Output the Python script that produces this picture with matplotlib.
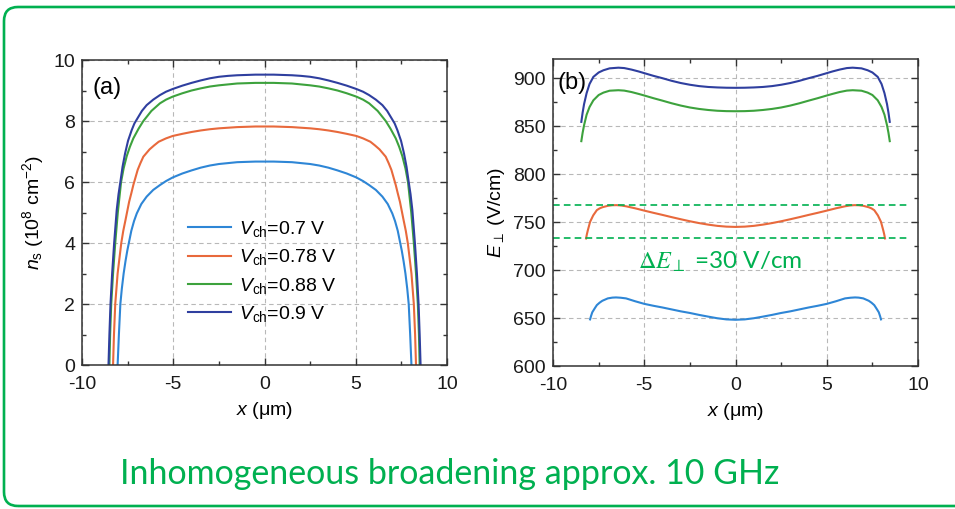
import matplotlib
matplotlib.use("Agg")
import matplotlib.pyplot as plt
from matplotlib.patches import FancyBboxPatch
from matplotlib.ticker import MultipleLocator

plt.rcParams['font.family'] = ['Liberation Sans', 'DejaVu Sans']
plt.rcParams['mathtext.fontset'] = 'custom'
plt.rcParams['mathtext.rm'] = 'Liberation Sans'
plt.rcParams['mathtext.it'] = 'Liberation Sans:italic'
plt.rcParams['axes.unicode_minus'] = False

# (a) sheet density n_s (1e8 cm^-2) vs x (um)
a_blue_x = [-8.05, -7.98, -7.9, -7.82, -7.72, -7.62, -7.52, -7.3, -7.15, -7.0, -6.75, -6.46, -6.1, -5.73, -5.4, -5.03,
            -4.5, -4.0, -3.5, -3.0, -2.5, -2.0, -1.5, -1.0, -0.5, 0.0,
            0.5, 1.0, 1.5, 2.0, 2.5, 3.0, 3.5, 4.0, 4.5,
            5.03, 5.4, 5.73, 6.1, 6.46, 6.75, 7.0, 7.15, 7.3, 7.52, 7.62, 7.72, 7.82, 7.9, 7.98, 8.05]
a_blue_y = [0.0, 1.0, 2.0, 2.5, 3.0, 3.4, 3.75, 4.4, 4.72, 4.97, 5.28, 5.52, 5.74, 5.9, 6.03, 6.15,
            6.28, 6.38, 6.47, 6.54, 6.59, 6.62, 6.65, 6.66, 6.67, 6.67,
            6.67, 6.66, 6.65, 6.62, 6.59, 6.54, 6.47, 6.38, 6.28,
            6.15, 6.03, 5.9, 5.74, 5.52, 5.28, 4.97, 4.72, 4.4, 3.75, 3.4, 3.0, 2.5, 2.0, 1.0, 0.0]

a_orange_x = [-8.3, -8.25, -8.18, -8.05, -7.85, -7.74, -7.62, -7.42, -7.3, -7.19, -6.95, -6.8, -6.64, -6.3, -6.05, -5.8, -5.4, -5.03,
              -4.5, -4.0, -3.5, -3.0, -2.5, -2.0, -1.5, -1.0, -0.5, 0.0,
              0.5, 1.0, 1.5, 2.0, 2.5, 3.0, 3.5, 4.0, 4.5,
              5.03, 5.4, 5.8, 6.05, 6.3, 6.64, 6.8, 6.95, 7.19, 7.3, 7.42, 7.62, 7.74, 7.85, 8.05, 8.18, 8.25, 8.3]
a_orange_y = [0.0, 1.0, 2.0, 3.0, 4.0, 4.4, 4.75, 5.35, 5.63, 5.9, 6.4, 6.62, 6.83, 7.07, 7.2, 7.32, 7.43, 7.51,
              7.58, 7.64, 7.69, 7.73, 7.76, 7.78, 7.8, 7.81, 7.82, 7.82,
              7.82, 7.81, 7.8, 7.78, 7.76, 7.73, 7.69, 7.64, 7.58,
              7.51, 7.43, 7.32, 7.2, 7.07, 6.83, 6.62, 6.4, 5.9, 5.63, 5.35, 4.75, 4.4, 4.0, 3.0, 2.0, 1.0, 0.0]

a_green_x = [-8.5, -8.46, -8.4, -8.3, -8.18, -8.04, -7.95, -7.86, -7.72, -7.55, -7.38, -7.19, -6.9, -6.64, -6.4, -6.2, -5.73, -5.4, -5.03,
             -4.5, -4.0, -3.5, -3.0, -2.5, -2.0, -1.5, -1.0, -0.5, 0.0,
             0.5, 1.0, 1.5, 2.0, 2.5, 3.0, 3.5, 4.0, 4.5,
             5.03, 5.4, 5.73, 6.2, 6.4, 6.64, 6.9, 7.19, 7.38, 7.55, 7.72, 7.86, 7.95, 8.04, 8.18, 8.3, 8.4, 8.46, 8.5]
a_green_y = [0.0, 1.0, 2.0, 3.0, 4.0, 5.0, 5.5, 6.0, 6.45, 6.85, 7.15, 7.43, 7.75, 8.0, 8.18, 8.33, 8.58, 8.7, 8.8,
             8.91, 9.0, 9.07, 9.13, 9.17, 9.2, 9.23, 9.24, 9.25, 9.25,
             9.25, 9.24, 9.23, 9.2, 9.17, 9.13, 9.07, 9.0, 8.91,
             8.8, 8.7, 8.58, 8.33, 8.18, 8.0, 7.75, 7.43, 7.15, 6.85, 6.45, 6.0, 5.5, 5.0, 4.0, 3.0, 2.0, 1.0, 0.0]

a_navy_x = [-8.55, -8.5, -8.44, -8.35, -8.24, -8.1, -8.0, -7.9, -7.78, -7.64, -7.48, -7.28, -7.13, -6.97, -6.72, -6.46, -6.1, -5.73, -5.4, -5.03,
            -4.5, -4.0, -3.5, -3.0, -2.5, -2.0, -1.5, -1.0, -0.5, 0.0,
            0.5, 1.0, 1.5, 2.0, 2.5, 3.0, 3.5, 4.0, 4.5,
            5.03, 5.4, 5.73, 6.1, 6.46, 6.72, 6.97, 7.13, 7.28, 7.48, 7.64, 7.78, 7.9, 8.0, 8.1, 8.24, 8.35, 8.44, 8.5, 8.55]
a_navy_y = [0.0, 1.0, 2.0, 3.0, 4.0, 5.08, 5.6, 6.0, 6.5, 6.94, 7.35, 7.7, 7.92, 8.08, 8.33, 8.52, 8.7, 8.85, 8.96, 9.05,
            9.16, 9.25, 9.33, 9.4, 9.45, 9.48, 9.5, 9.51, 9.52, 9.52,
            9.52, 9.51, 9.5, 9.48, 9.45, 9.4, 9.33, 9.25, 9.16,
            9.05, 8.96, 8.85, 8.7, 8.52, 8.33, 8.08, 7.92, 7.7, 7.35, 6.94, 6.5, 6.0, 5.6, 5.08, 4.0, 3.0, 2.0, 1.0, 0.0]

# (b) perpendicular field E (V/cm) vs x (um)
b_top_x = [-8.45, -8.38, -8.3, -8.16, -8.0, -7.79, -7.5, -7.24, -6.9, -6.42, -6.1, -5.7, -5.3, -5.0,
           -4.5, -4.0, -3.5, -3.0, -2.5, -2.0, -1.5, -1.0, -0.5, 0.0,
           0.5, 1.0, 1.5, 2.0, 2.5, 3.0, 3.5, 4.0, 4.5,
           5.0, 5.3, 5.7, 6.1, 6.42, 6.9, 7.24, 7.5, 7.79, 8.0, 8.16, 8.3, 8.38, 8.45]
b_navy_y = [854.5, 864, 873, 884.5, 894, 901.4, 906, 908.3, 910.3, 911, 910.6, 909, 907, 905.3,
            902.5, 900, 897.3, 895, 893.2, 891.8, 890.9, 890.4, 890.1, 890,
            890.1, 890.4, 890.9, 891.8, 893.2, 895, 897.3, 900, 902.5,
            905.3, 907, 909, 910.6, 911, 910.3, 908.3, 906, 901.4, 894, 884.5, 873, 864, 854.5]
b_green_y = [834.4, 843, 851, 862, 870, 877, 882.5, 885, 887, 887.5, 887.1, 885.6, 883.6, 882,
             879.2, 876.6, 873.9, 871.5, 869.5, 868, 866.9, 866.1, 865.7, 865.6,
             865.7, 866.1, 866.9, 868, 869.5, 871.5, 873.9, 876.6, 879.2,
             882, 883.6, 885.6, 887.1, 887.5, 887, 885, 882.5, 877, 870, 862, 851, 843, 834.4]

b_orange_x = [-8.19, -8.15, -8.1, -8.03, -7.97, -7.8, -7.6, -7.45, -7.3, -7.0, -6.75, -6.51, -6.25, -6.0, -5.5, -5.0,
              -4.5, -4.0, -3.5, -3.0, -2.5, -2.0, -1.5, -1.0, -0.5, 0.0,
              0.5, 1.0, 1.5, 2.0, 2.5, 3.0, 3.5, 4.0, 4.5,
              5.0, 5.5, 6.0, 6.25, 6.51, 6.75, 7.0, 7.3, 7.45, 7.6, 7.8, 7.97, 8.03, 8.1, 8.15, 8.19]
b_orange_y = [733, 737, 741, 746, 750.3, 757, 762.5, 764.3, 765.5, 767, 767.6, 767.7, 767.3, 766.5, 764.4, 762,
              759.7, 757.5, 755.2, 753, 750.9, 749, 747.4, 746.1, 745.3, 745,
              745.3, 746.1, 747.4, 749, 750.9, 753, 755.2, 757.5, 759.7,
              762, 764.4, 766.5, 767.3, 767.7, 767.6, 767, 765.5, 764.3, 762.5, 757, 750.3, 746, 741, 737, 733]

b_blue_x = [-7.97, -7.92, -7.85, -7.72, -7.6, -7.45, -7.3, -7.0, -6.75, -6.55, -6.3, -6.0, -5.5, -5.0,
            -4.5, -4.0, -3.5, -3.0, -2.5, -2.0, -1.5, -1.0, -0.5, 0.0,
            0.5, 1.0, 1.5, 2.0, 2.5, 3.0, 3.5, 4.0, 4.5,
            5.0, 5.5, 6.0, 6.3, 6.55, 6.75, 7.0, 7.3, 7.45, 7.6, 7.72, 7.85, 7.92, 7.97]
b_blue_y = [648.6, 652, 656, 660, 663.5, 666, 668, 670.5, 671.3, 671.5, 671.2, 670.5, 667.5, 664.8,
            662.8, 661, 659, 657, 655.3, 653.3, 651.5, 649.8, 648.6, 648.2,
            648.6, 649.8, 651.5, 653.3, 655.3, 657, 659, 661, 662.8,
            664.8, 667.5, 670.5, 671.2, 671.5, 671.3, 670.5, 668, 666, 663.5, 660, 656, 652, 648.6]

spread_levels = [767.5, 733.5]
labels = ['0.7', '0.78', '0.88', '0.9']
colors = ['#2E86D6', '#E8693C', '#3DA23D', '#2F3F9F']
accent = '#00B050'

fig = plt.figure(figsize=(9.55, 5.09), dpi=100)

# rounded green frame around the slide panel
frame = FancyBboxPatch((0.04, 0.03), 9.65, 4.99, boxstyle="round,pad=0,rounding_size=0.14",
                       transform=fig.dpi_scale_trans, facecolor='none', edgecolor=accent, linewidth=1.9)
fig.patches.append(frame)

ax1 = fig.add_axes([0.0859, 0.2829, 0.3822, 0.5992])
ax2 = fig.add_axes([0.5791, 0.2809, 0.3822, 0.6031])

for ax in (ax1, ax2):
    ax.set_xlim(-10, 10)
    ax.xaxis.set_major_locator(MultipleLocator(5))
    ax.xaxis.set_minor_locator(MultipleLocator(2.5))
    ax.grid(True, which='major', linestyle=(0, (4, 3)), color='#b8b8b8', linewidth=0.8)
    ax.tick_params(which='both', direction='in', top=True, right=True, labelsize=14,
                   colors='#333333', labelcolor='#1a1a1a')
    ax.tick_params(axis='x', which='major', pad=8)
    ax.tick_params(axis='y', which='major', pad=5)
    ax.tick_params(which='major', length=5, width=1)
    ax.tick_params(which='minor', length=3, width=1)
    for s in ax.spines.values():
        s.set_color('#333333')
        s.set_linewidth(1.1)
    ax.set_xlabel(r'$x$ ($\mathrm{\mu}$m)', fontsize=14, labelpad=5)

ax1.set_ylim(0, 10)
ax1.yaxis.set_major_locator(MultipleLocator(2))
ax1.yaxis.set_minor_locator(MultipleLocator(1))
ax2.set_ylim(600, 920)
ax2.yaxis.set_major_locator(MultipleLocator(50))
ax2.yaxis.set_minor_locator(MultipleLocator(25))

a_sets = [(a_blue_x, a_blue_y), (a_orange_x, a_orange_y), (a_green_x, a_green_y), (a_navy_x, a_navy_y)]
for (xs, ys), lab, c in zip(a_sets, labels, colors):
    ax1.plot(xs, ys, color=c, linewidth=1.5, label=r'$V_\mathrm{ch}$=' + lab + ' V')

ax1.legend(loc='upper left', bbox_to_anchor=(0.291, 0.478), frameon=False, fontsize=14,
           handlelength=2.2, handletextpad=0.4, labelspacing=0.42, borderpad=0, borderaxespad=0)
ax1.set_ylabel(r'$n_\mathrm{s}$ (10$^8$ cm$^{-2}$)', fontsize=14, labelpad=5)
ax1.text(-9.45, 9.08, '(a)', fontsize=17, ha='left', va='center')

b_sets = [(b_blue_x, b_blue_y), (b_orange_x, b_orange_y), (b_top_x, b_green_y), (b_top_x, b_navy_y)]
for (xs, ys), c in zip(b_sets, colors):
    ax2.plot(xs, ys, color=c, linewidth=1.5)

for lev in spread_levels:
    ax2.plot([-10, 9.4], [lev, lev], color=accent, linestyle=(0, (4, 2.5)), linewidth=1.2)

ax2.text(-5.34, 709, r'$\Delta E_{\perp}$ =30 V/cm', fontsize=17.5, color=accent, ha='left', va='center',
         family='Lato', math_fontfamily='stix')
ax2.set_ylabel(r'$E_{\perp}$ (V/cm)', fontsize=14, labelpad=5)
ax2.text(-9.73, 895, '(b)', fontsize=17, ha='left', va='center')

fig.text(0.471, 0.069, 'Inhomogeneous broadening approx. 10 GHz', fontsize=24.5, color=accent,
         ha='center', va='center', family='Lato')

fig.savefig('out.png', dpi=100)
